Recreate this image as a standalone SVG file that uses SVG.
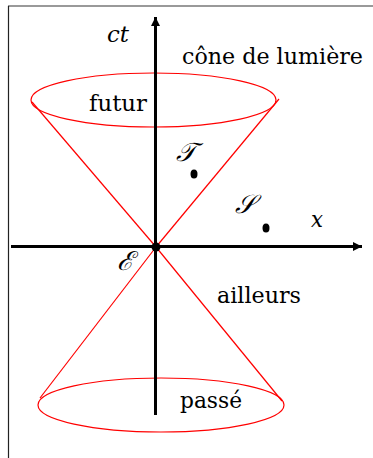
<svg xmlns="http://www.w3.org/2000/svg" width="373" height="458" viewBox="0 0 373 458">
<style>
text{font-family:"DejaVu Serif","Liberation Serif",serif;font-size:22px;fill:#000}
.i{font-style:italic}
.cone{fill:none;stroke:#ff0000;stroke-width:1.2}
.ax{stroke:#000;stroke-width:3;fill:none}
</style>
<defs>
<marker id="ah" viewBox="0 0 10 10" refX="10" refY="5" markerWidth="13" markerHeight="9" markerUnits="userSpaceOnUse" orient="auto">
<path d="M0,0 L10,5 L0,10 Z" fill="#000"/>
</marker>
</defs>
<rect width="373" height="458" fill="#fff"/>
<g id="frame">
<line x1="8" y1="6" x2="373" y2="6" stroke="#777" stroke-width="1.5"/>
<line x1="8.5" y1="6" x2="8.5" y2="458" stroke="#222" stroke-width="1.2"/>
</g>
<g id="cone">
<ellipse class="cone" cx="153.5" cy="100" rx="122.5" ry="27"/>
<ellipse class="cone" cx="161" cy="405" rx="123" ry="27"/>
<line class="cone" x1="32" y1="102" x2="156" y2="247"/>
<line class="cone" x1="279" y1="99" x2="156" y2="247"/>
<line class="cone" x1="40" y1="398" x2="156" y2="247"/>
<line class="cone" x1="282" y1="401" x2="156" y2="247"/>
</g>
<g id="connectors">
<line class="ax" x1="155.5" y1="415" x2="155.5" y2="17" marker-end="url(#ah)"/>
<line class="ax" x1="11" y1="246.5" x2="362" y2="246.5" marker-end="url(#ah)"/>
</g>
<g id="E"><circle cx="156" cy="247" r="4.5" fill="#000"/>
<text class="i" x="117" y="270" style="font-size:26px" textLength="17" lengthAdjust="spacingAndGlyphs">ℰ</text></g>
<g id="T"><ellipse cx="194" cy="174" rx="3.5" ry="4.5" fill="#000"/>
<text class="i" x="176" y="161" style="font-size:26px">𝒯</text></g>
<g id="S"><ellipse cx="266" cy="228" rx="3.5" ry="4.5" fill="#000"/>
<text class="i" x="235" y="213" style="font-size:26px">𝒮</text></g>
<g id="labels">
<text class="i" x="107" y="42" textLength="22" lengthAdjust="spacingAndGlyphs">ct</text>
<text class="i" x="311" y="227" textLength="12" lengthAdjust="spacingAndGlyphs">x</text>
<text x="182" y="64" textLength="181" lengthAdjust="spacingAndGlyphs">cône de lumière</text>
<text x="89" y="111" textLength="58" lengthAdjust="spacingAndGlyphs">futur</text>
<text x="217" y="303" textLength="84" lengthAdjust="spacingAndGlyphs">ailleurs</text>
<text x="180" y="408" textLength="62" lengthAdjust="spacingAndGlyphs">passé</text>
</g>
</svg>
